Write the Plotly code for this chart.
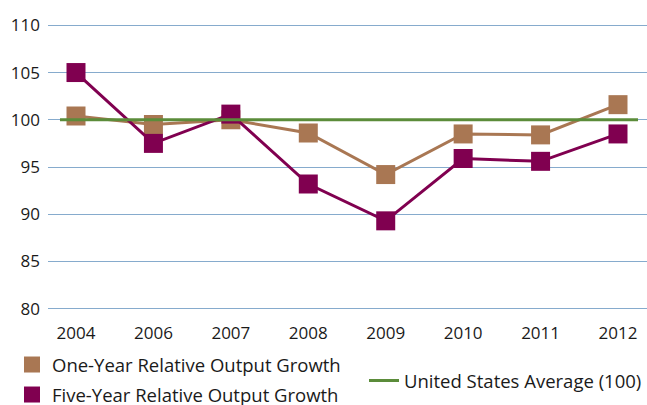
import plotly.graph_objects as go

years = ["2004", "2006", "2007", "2008", "2009", "2010", "2011", "2012"]
one_year = [100.4, 99.5, 100.0, 98.6, 94.2, 98.5, 98.4, 101.6]
five_year = [105.0, 97.5, 100.6, 93.2, 89.3, 95.9, 95.6, 98.5]
us_avg = 100
y_ticks = [80, 85, 90, 95, 100, 105, 110]

BROWN = "#A97753"
PURPLE = "#800050"
GREEN = "#5B8C3A"
GRID = "#86ABCD"
FONT = "Open Sans"
TICK_FS = 17
LEG_FS = 18.5

fig = go.Figure()

fig.add_shape(type="line", xref="paper", yref="y", x0=0.02, x1=0.985,
              y0=us_avg, y1=us_avg, line=dict(color=GREEN, width=3), layer="above")

fig.add_trace(go.Scatter(x=years, y=one_year, mode="lines+markers", showlegend=False,
                         line=dict(color=BROWN, width=3),
                         marker=dict(symbol="square", size=19, color=BROWN)))
fig.add_trace(go.Scatter(x=years, y=five_year, mode="lines+markers", showlegend=False,
                         line=dict(color=PURPLE, width=3),
                         marker=dict(symbol="square", size=19, color=PURPLE)))

# legend entries
fig.add_trace(go.Scatter(x=[years[0]], y=[None], mode="markers", name="One-Year Relative Output Growth",
                         marker=dict(symbol="square", size=18, color=BROWN), legend="legend"))
fig.add_trace(go.Scatter(x=[years[0]], y=[None], mode="markers", name="Five-Year Relative Output Growth",
                         marker=dict(symbol="square", size=18, color=PURPLE), legend="legend2"))
fig.add_trace(go.Scatter(x=[years[0]], y=[None], mode="lines", name="United States Average (100)",
                         line=dict(color=GREEN, width=3), legend="legend3"))

leg = dict(xref="container", yref="container", xanchor="left", yanchor="middle",
           font=dict(size=LEG_FS), itemsizing="trace", bgcolor="rgba(0,0,0,0)")

fig.update_layout(
    width=647, height=405,
    margin=dict(l=48, r=0, t=24, b=95, autoexpand=False),
    paper_bgcolor="white", plot_bgcolor="white",
    font=dict(family=FONT, size=TICK_FS, color="#1a1a1a"),
    xaxis=dict(type="category", range=[-0.3616, 7.3745], showgrid=False, showline=False,
               zeroline=False, ticks="", tickfont=dict(size=TICK_FS), ticklabelstandoff=11),
    yaxis=dict(range=[79.86, 110.14], tickvals=y_ticks, showgrid=True, gridcolor=GRID, gridwidth=1.3,
               zeroline=False, showline=False, ticks="", tickfont=dict(size=TICK_FS),
               ticklabelstandoff=7),
    legend=dict(leg, x=12 / 647, y=0.0988),
    legend2=dict(leg, x=12 / 647, y=0.0247),
    legend3=dict(leg, x=364 / 647, y=0.0593),
)

fig.write_html("out.html", config={"displayModeBar": False},
               post_script="document.body.style.margin='0';")
